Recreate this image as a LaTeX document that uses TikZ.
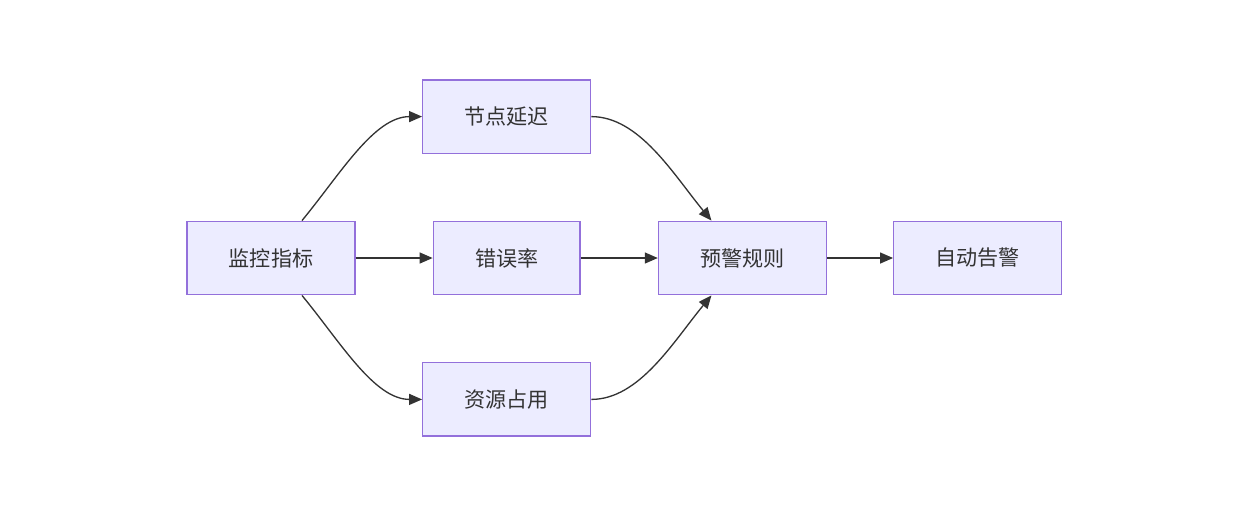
\documentclass[tikz,border=0pt]{standalone}
\usepackage{fontspec}
\newfontfamily\cjk{Noto Sans CJK SC}
\usepackage{tikz}
\usetikzlibrary{arrows.meta, positioning}
\definecolor{boxfill}{HTML}{ECECFF}
\definecolor{boxline}{HTML}{9370DB}
\definecolor{inkgray}{HTML}{333333}

\begin{document}
\begin{tikzpicture}[
	node distance=1.33cm and 1.54cm,
	stage/.style={rectangle, draw=boxline, fill=boxfill, line width=0.8pt,
		minimum height=1.47cm, inner xsep=0.835cm, text=inkgray,
		font=\cjk\fontsize{12}{14}\selectfont},
	flow/.style={-{Triangle[length=0.26cm, width=0.22cm]}, draw=inkgray,
		line width=0.75pt}
	]
	\useasboundingbox (0,0) rectangle (24.72,-10.3);
	
	% Source metric
	\node[stage] (mon) at (5.42,-5.16) {监控指标};
	
	% Middle column
	\node[stage] (err) [right=of mon] {错误率};
	\node[stage] (delay) [above=of err] {节点延迟};
	\node[stage] (res) [below=of err] {资源占用};
	
	% Rule and alert
	\node[stage] (rule) [right=of err] {预警规则};
	\node[stage] (alert) [right=1.32cm of rule] {自动告警};
	
	% Arrows from mon to middle column
	\draw[flow] ([xshift=0.62cm]mon.north) .. controls +(0.76,0.92) and +(-0.96,0) .. (delay.west);
	\draw[flow] (mon) -- (err);
	\draw[flow] ([xshift=0.62cm]mon.south) .. controls +(0.76,-0.92) and +(-0.96,0) .. (res.west);
	
	% Arrows from middle column to rule
	\draw[flow] (delay.east) .. controls +(0.96,0) and +(-0.76,0.92) .. ([xshift=-0.62cm]rule.north);
	\draw[flow] (err) -- (rule);
	\draw[flow] (res.east) .. controls +(0.96,0) and +(-0.76,-0.92) .. ([xshift=-0.62cm]rule.south);
	
	% Final alert
	\draw[flow] (rule) -- (alert);
	
\end{tikzpicture}
\end{document}
